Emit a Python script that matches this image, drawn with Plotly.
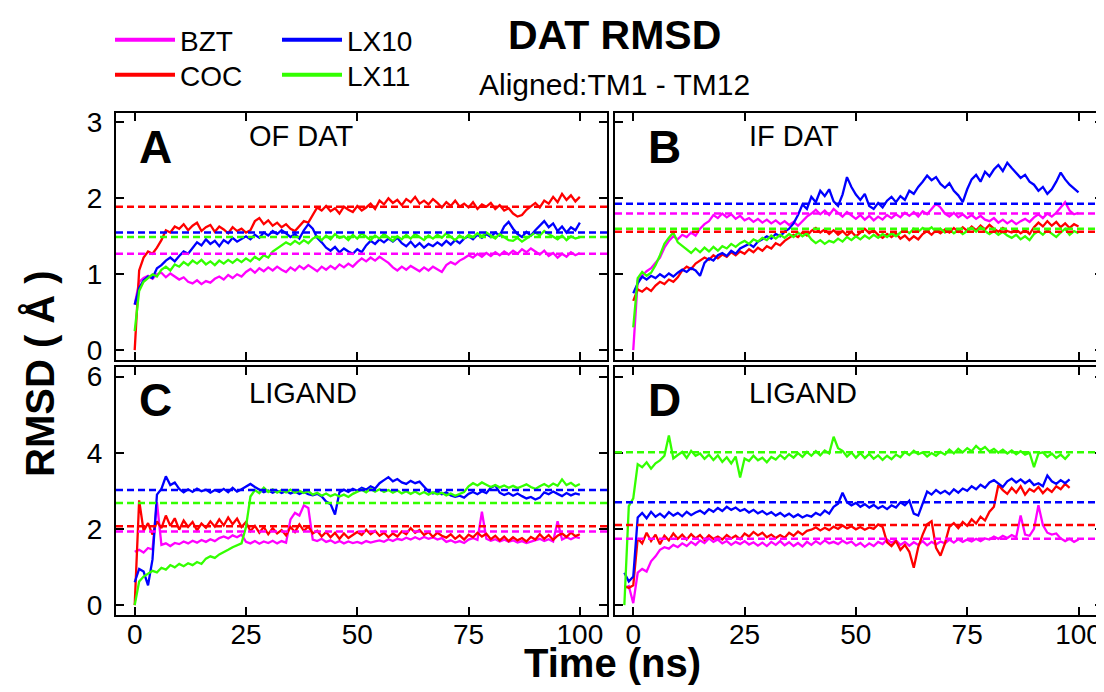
import plotly.graph_objects as go
from plotly.subplots import make_subplots

# ---------------- data ----------------
TIME = list(range(0, 101))          # ns, panels A-C
TIME_D = list(range(-2, 101))       # ns, panel D (starts slightly before 0)

SERIES = ["BZT", "COC", "LX10", "LX11"]
COLORS = {"BZT": "#ff00ff", "COC": "#ff0000", "LX10": "#0000ff", "LX11": "#33ff00"}

PANEL_LETTERS = ["A", "B", "C", "D"]
PANEL_NAMES = ["OF DAT", "IF DAT", "LIGAND", "LIGAND"]

X_TICKS = [0, 25, 50, 75, 100]
Y_TICKS_TOP = [0, 1, 2, 3]
Y_TICKS_BOTTOM = [0, 2, 4, 6]

# Panel A : OF DAT
BZT_A = [0.60, 0.90, 0.95, 0.98, 0.94, 1.00, 1.02, 0.96, 1.01, 0.97,
         0.93, 0.96, 0.90, 0.88, 0.92, 0.87, 0.91, 0.89, 0.94, 0.97,
         0.93, 0.99, 0.95, 1.00, 0.97, 1.03, 1.07, 1.02, 1.08, 1.04,
         1.09, 1.05, 1.10, 1.06, 1.03, 1.09, 1.05, 1.11, 1.07, 1.12,
         1.08, 1.04, 1.10, 1.06, 1.11, 1.07, 1.13, 1.09, 1.14, 1.10,
         1.16, 1.21, 1.17, 1.22, 1.18, 1.23, 1.19, 1.15, 1.09, 1.05,
         1.10, 1.06, 1.11, 1.07, 1.04, 1.09, 1.05, 1.10, 1.06, 1.03,
         1.12, 1.16, 1.13, 1.18, 1.21, 1.25, 1.22, 1.27, 1.23, 1.28,
         1.24, 1.29, 1.25, 1.30, 1.26, 1.31, 1.27, 1.33, 1.29, 1.34,
         1.30, 1.26, 1.31, 1.24, 1.28, 1.22, 1.27, 1.23, 1.29, 1.25,
         1.28]
COC_A = [0.00, 1.05, 1.22, 1.30, 1.27, 1.35, 1.45, 1.58, 1.55, 1.63,
         1.60, 1.66, 1.58, 1.64, 1.68, 1.57, 1.62, 1.65, 1.56, 1.63,
         1.59, 1.54, 1.62, 1.57, 1.60, 1.55, 1.58, 1.70, 1.74, 1.66,
         1.71, 1.64, 1.68, 1.62, 1.66, 1.60, 1.57, 1.63, 1.70, 1.68,
         1.78, 1.88, 1.84, 1.90, 1.83, 1.87, 1.80, 1.89, 1.85, 1.82,
         1.90, 1.84, 1.88, 1.93, 1.86, 1.97, 1.92, 2.00, 1.94, 1.98,
         1.91, 1.99, 1.95, 2.02, 1.93, 1.97, 1.92, 1.99, 1.94, 1.88,
         1.95, 1.90, 1.97, 1.89, 1.93, 1.88, 1.95, 1.86, 1.92, 1.89,
         1.94, 1.86, 1.91, 1.84, 1.87, 1.80, 1.76, 1.78, 1.85, 1.90,
         1.94, 1.88, 1.97, 1.93, 2.02, 1.95, 2.06, 1.98, 2.04, 1.96,
         2.02]
LX10_A = [0.60, 0.82, 0.92, 0.97, 0.95, 1.08, 1.12, 1.18, 1.22, 1.17,
          1.24, 1.30, 1.27, 1.34, 1.42, 1.38, 1.46, 1.40, 1.44, 1.37,
          1.45, 1.41, 1.48, 1.43, 1.47, 1.50, 1.46, 1.52, 1.48, 1.55,
          1.51, 1.57, 1.53, 1.58, 1.54, 1.49, 1.53, 1.47, 1.58, 1.66,
          1.60, 1.48, 1.42, 1.35, 1.31, 1.36, 1.29, 1.34, 1.30, 1.27,
          1.33, 1.29, 1.38, 1.44, 1.40, 1.46, 1.42, 1.47, 1.43, 1.48,
          1.41, 1.37, 1.43, 1.36, 1.41, 1.35, 1.40, 1.37, 1.42, 1.38,
          1.44, 1.39, 1.45, 1.41, 1.47, 1.50, 1.46, 1.52, 1.48, 1.53,
          1.49, 1.55, 1.51, 1.63, 1.69, 1.60, 1.53, 1.49, 1.56, 1.51,
          1.58, 1.64, 1.70, 1.62, 1.67, 1.57, 1.63, 1.55, 1.62, 1.58,
          1.68]
LX11_A = [0.25, 0.78, 0.90, 0.95, 1.00, 0.97, 1.06, 1.10, 1.05, 1.13,
          1.10, 1.16, 1.12, 1.18, 1.14, 1.19, 1.13, 1.17, 1.12, 1.18,
          1.14, 1.19, 1.15, 1.20, 1.16, 1.21, 1.17, 1.23, 1.19, 1.25,
          1.22, 1.30, 1.34, 1.38, 1.42, 1.39, 1.44, 1.40, 1.45, 1.41,
          1.47, 1.50, 1.45, 1.51, 1.46, 1.53, 1.48, 1.50, 1.45, 1.52,
          1.47, 1.54, 1.49, 1.45, 1.51, 1.47, 1.53, 1.48, 1.44, 1.50,
          1.46, 1.52, 1.47, 1.53, 1.49, 1.45, 1.51, 1.47, 1.52, 1.48,
          1.54, 1.49, 1.45, 1.51, 1.47, 1.52, 1.49, 1.54, 1.50, 1.55,
          1.51, 1.47, 1.53, 1.49, 1.45, 1.44, 1.48, 1.43, 1.47, 1.50,
          1.55, 1.51, 1.57, 1.53, 1.49, 1.46, 1.51, 1.45, 1.50, 1.47,
          1.49]
MEAN_A = {"BZT": 1.27, "COC": 1.89, "LX10": 1.55, "LX11": 1.49}

# Panel B : IF DAT
BZT_B = [0.00, 0.92, 0.98, 1.04, 1.08, 1.15, 1.22, 1.35, 1.44, 1.50,
         1.46, 1.52, 1.49, 1.55, 1.51, 1.60, 1.66, 1.70, 1.78, 1.74,
         1.80, 1.75, 1.79, 1.73, 1.77, 1.71, 1.74, 1.69, 1.73, 1.68,
         1.72, 1.67, 1.71, 1.66, 1.70, 1.65, 1.69, 1.64, 1.70, 1.76,
         1.80, 1.85, 1.79, 1.84, 1.78, 1.86, 1.81, 1.76, 1.82, 1.77,
         1.73, 1.78, 1.72, 1.77, 1.71, 1.76, 1.72, 1.78, 1.74, 1.79,
         1.75, 1.81, 1.77, 1.82, 1.76, 1.83, 1.79, 1.86, 1.93, 1.88,
         1.80, 1.76, 1.81, 1.75, 1.79, 1.74, 1.78, 1.73, 1.77, 1.72,
         1.70, 1.74, 1.68, 1.72, 1.67, 1.71, 1.66, 1.70, 1.73, 1.69,
         1.75, 1.79, 1.74, 1.80, 1.76, 1.81, 1.88, 1.95, 1.84, 1.79,
         1.81]
COC_B = [0.65, 0.80, 0.77, 0.82, 0.78, 0.85, 0.90, 0.87, 0.93, 0.90,
         0.96, 1.05, 1.10, 1.07, 1.14, 1.18, 1.22, 1.19, 1.25, 1.21,
         1.26, 1.23, 1.29, 1.25, 1.30, 1.27, 1.33, 1.29, 1.35, 1.31,
         1.37, 1.34, 1.41, 1.38, 1.44, 1.48, 1.52, 1.49, 1.55, 1.51,
         1.57, 1.61, 1.55, 1.59, 1.53, 1.58, 1.52, 1.57, 1.51, 1.56,
         1.50, 1.55, 1.60, 1.54, 1.58, 1.52, 1.48, 1.53, 1.49, 1.54,
         1.47, 1.51, 1.45, 1.50, 1.46, 1.53, 1.57, 1.52, 1.58, 1.54,
         1.59, 1.55, 1.61, 1.56, 1.62, 1.57, 1.63, 1.58, 1.64, 1.59,
         1.65, 1.60, 1.56, 1.61, 1.57, 1.55, 1.59, 1.54, 1.58, 1.53,
         1.62, 1.68, 1.63, 1.70, 1.64, 1.69, 1.62, 1.67, 1.61, 1.66,
         1.63]
LX10_B = [0.75, 0.88, 0.97, 0.93, 0.98, 0.95, 1.00, 0.96, 1.01, 0.97,
          1.02, 1.06, 1.03, 1.08, 1.05, 0.98, 1.15, 1.21, 1.18, 1.25,
          1.28, 1.24, 1.31, 1.27, 1.34, 1.37, 1.40, 1.36, 1.43, 1.46,
          1.50, 1.47, 1.53, 1.50, 1.56, 1.60, 1.67, 1.78, 1.92, 1.86,
          2.02, 1.95, 2.10, 2.03, 2.12, 1.96, 1.90, 2.05, 2.28, 2.15,
          2.05, 1.98, 2.06, 1.90, 1.86, 1.94, 1.88, 1.97, 2.02, 1.95,
          2.03, 1.98, 2.10, 2.06, 2.15, 2.22, 2.30, 2.24, 2.28, 2.19,
          2.14, 2.20, 2.10, 2.04, 1.95, 2.12, 2.25, 2.31, 2.22, 2.35,
          2.29, 2.38, 2.44, 2.36, 2.47, 2.40, 2.33, 2.27, 2.31, 2.22,
          2.18, 2.10, 2.15, 2.06, 2.12, 2.22, 2.34, 2.25, 2.18, 2.13,
          2.08]
LX11_B = [0.30, 0.95, 1.03, 0.98, 1.02, 1.12, 1.25, 1.40, 1.48, 1.55,
          1.42, 1.37, 1.33, 1.28, 1.34, 1.29, 1.35, 1.30, 1.36, 1.31,
          1.37, 1.34, 1.40, 1.36, 1.41, 1.44, 1.40, 1.46, 1.43, 1.48,
          1.45, 1.51, 1.47, 1.52, 1.48, 1.53, 1.49, 1.55, 1.50, 1.54,
          1.46, 1.41, 1.45, 1.40, 1.44, 1.42, 1.47, 1.43, 1.49, 1.45,
          1.50, 1.46, 1.51, 1.47, 1.52, 1.48, 1.53, 1.49, 1.54, 1.50,
          1.55, 1.59, 1.54, 1.60, 1.56, 1.61, 1.57, 1.62, 1.56, 1.60,
          1.55, 1.59, 1.54, 1.58, 1.53, 1.57, 1.61, 1.56, 1.62, 1.57,
          1.53, 1.57, 1.52, 1.56, 1.51, 1.48, 1.52, 1.46, 1.50, 1.45,
          1.53, 1.57, 1.52, 1.58, 1.53, 1.49, 1.55, 1.60, 1.52, 1.57,
          1.54]
MEAN_B = {"BZT": 1.80, "COC": 1.56, "LX10": 1.93, "LX11": 1.60}

# Panel C : LIGAND
BZT_C = [1.40, 1.45, 1.38, 1.50, 1.46, 2.70, 1.58, 1.62, 1.55, 1.63,
         1.60, 1.67, 1.62, 1.69, 1.64, 1.71, 1.66, 1.73, 1.68, 1.76,
         1.80, 1.75, 1.83, 1.78, 1.85, 1.66, 1.62, 1.68, 1.61, 1.67,
         1.63, 1.69, 1.62, 1.68, 1.64, 2.25, 2.42, 2.35, 2.62, 2.55,
         1.72, 1.68, 1.74, 1.66, 1.70, 1.63, 1.68, 1.62, 1.67, 1.63,
         1.66, 1.62, 1.68, 1.64, 1.67, 1.70, 1.66, 1.73, 1.68, 1.74,
         1.71, 1.77, 1.72, 1.78, 1.73, 1.79, 1.74, 1.78, 1.72, 1.76,
         1.66, 1.70, 1.64, 1.68, 1.63, 1.72, 1.76, 1.71, 2.45, 1.74,
         1.69, 1.73, 1.67, 1.72, 1.66, 1.70, 1.64, 1.68, 1.63, 1.67,
         1.70, 1.74, 1.68, 1.73, 1.67, 2.20, 1.72, 1.78, 1.73, 1.79,
         1.76]
COC_C = [0.00, 2.75, 1.95, 2.15, 1.85, 2.20, 2.02, 2.35, 2.08, 2.28,
         1.98, 2.22, 2.05, 2.18, 1.96, 2.14, 2.03, 2.20, 2.06, 2.25,
         2.09, 2.30, 2.12, 2.27, 2.05, 2.18, 1.94, 2.08, 1.90, 2.05,
         1.86, 2.02, 1.88, 1.97, 1.83, 2.05, 1.92, 2.12, 1.95, 2.06,
         1.88, 1.95, 1.80, 1.92, 1.78, 1.90, 1.74, 1.88, 1.76, 1.85,
         1.92, 1.84, 1.98, 1.86, 1.95, 1.82, 1.90, 1.78, 1.88, 1.80,
         1.93, 1.86, 2.02, 1.90, 1.97, 1.84, 1.92, 1.79, 1.90, 1.82,
         1.77, 1.86, 1.74, 1.83, 1.72, 1.85, 1.78, 1.90, 1.80, 1.87,
         1.73, 1.82, 1.70, 1.80, 1.68, 1.78, 1.70, 1.76, 1.67, 1.79,
         1.72, 1.86, 1.74, 1.84, 1.71, 1.82, 1.88, 1.79, 1.90, 1.81,
         1.86]
LX10_C = [0.60, 0.95, 0.88, 0.52, 1.20, 2.90, 3.05, 3.38, 3.15, 3.22,
          3.05, 2.96, 3.04, 2.97, 3.06, 2.99, 3.03, 2.95, 3.02, 2.97,
          3.05, 2.96, 3.08, 2.98, 3.04, 3.12, 3.18, 3.10, 3.02, 2.96,
          3.01, 2.95, 3.00, 2.94, 2.99, 2.93, 2.98, 2.92, 2.97, 2.91,
          2.88, 2.92, 2.85, 2.72, 2.65, 2.38, 2.96, 3.03, 2.97, 3.05,
          3.00, 3.08, 3.03, 3.12, 3.06, 3.20, 3.28, 3.36, 3.25, 3.31,
          3.22, 3.18, 3.26, 3.20, 3.24, 3.12, 2.98, 2.93, 2.99, 2.91,
          2.96, 2.88, 2.84, 2.87, 2.82, 2.92, 2.97, 2.91, 2.99, 2.94,
          3.08, 3.14, 2.95, 2.89, 2.94, 2.87, 2.93, 2.86, 2.80, 2.84,
          2.77, 2.82, 2.96, 2.91, 2.98, 2.92, 2.86, 2.94, 2.88, 2.93,
          2.90]
LX11_C = [0.00, 0.62, 0.75, 0.82, 0.90, 0.86, 0.98, 0.93, 1.05, 0.99,
          1.08, 1.02, 1.10, 1.05, 1.13, 1.08, 1.22, 1.28, 1.24, 1.33,
          1.38, 1.45, 1.52, 1.56, 1.62, 2.05, 2.85, 3.02, 2.94, 3.08,
          2.97, 3.04, 2.95, 3.02, 2.96, 3.03, 2.95, 3.00, 2.94, 2.99,
          2.90, 2.95, 2.87, 2.93, 2.86, 2.91, 2.85, 2.90, 2.84, 2.92,
          2.97, 3.03, 2.96, 3.05, 2.98, 3.04, 2.97, 3.02, 2.95, 3.01,
          2.93, 2.99, 2.92, 2.98, 2.91, 2.97, 2.90, 2.96, 2.91, 2.95,
          2.88, 2.93, 2.87, 2.92, 2.97, 3.12, 3.20, 3.14, 3.22, 3.16,
          3.10, 3.15, 3.09, 3.14, 3.08, 3.13, 3.07, 3.12, 3.17, 3.10,
          3.05, 3.12, 3.18, 3.11, 3.19, 3.13, 3.30, 3.15, 3.21, 3.12,
          3.18]
MEAN_C = {"BZT": 1.93, "COC": 2.07, "LX10": 3.02, "LX11": 2.68}

# Panel D : LIGAND (time starts at -2 ns)
BZT_D = [0.45, 0.50, 0.05, 0.85, 0.95, 0.88, 1.15, 1.28, 1.45, 1.52,
         1.48, 1.58, 1.52, 1.62, 1.55, 1.66, 1.58, 1.70, 1.63, 1.75,
         1.66, 1.72, 1.62, 1.68, 1.58, 1.66, 1.60, 1.68, 1.59, 1.65,
         1.56, 1.64, 1.55, 1.66, 1.58, 1.68, 1.57, 1.65, 1.55, 1.63,
         1.54, 1.66, 1.58, 1.68, 1.60, 1.70, 1.62, 1.66, 1.60, 1.69,
         1.62, 1.67, 1.56, 1.63, 1.53, 1.62, 1.55, 1.66, 1.60, 1.72,
         1.64, 1.70, 1.58, 1.66, 1.56, 1.65, 1.58, 1.68, 1.57, 1.66,
         1.59, 1.67, 1.62, 1.72, 1.64, 1.73, 1.66, 1.72, 1.67, 1.74,
         1.68, 1.75, 1.72, 1.80, 1.74, 1.82, 1.76, 1.84, 1.78, 2.35,
         1.85, 1.82, 2.00, 2.62, 2.10, 1.90, 1.85, 1.88, 1.75, 1.68,
         1.74, 1.66, 1.72]
COC_D = [0.50, 0.45, 0.52, 1.75, 1.62, 1.90, 1.68, 1.85, 1.60, 1.82,
         1.70, 1.88, 1.74, 1.85, 1.72, 1.86, 1.75, 1.84, 1.71, 1.83,
         1.74, 1.80, 1.72, 1.84, 1.75, 1.82, 1.73, 1.88, 1.80, 1.92,
         1.83, 1.90, 1.78, 1.85, 1.76, 1.84, 1.77, 1.90, 1.82, 1.93,
         1.85, 1.95, 1.98, 2.04, 1.96, 2.03, 1.97, 2.06, 2.00, 2.09,
         2.01, 2.07, 1.99, 2.05, 1.98, 2.04, 2.00, 2.12, 2.05, 1.65,
         1.55, 1.68, 1.45, 1.58, 1.40, 0.98, 1.52, 1.85, 2.12, 2.20,
         1.50, 1.30, 1.62, 2.05, 2.15, 2.02, 2.18, 2.08, 2.25, 2.14,
         2.32, 2.22, 2.45, 2.58, 3.15, 3.02, 2.92, 3.08, 2.95, 3.12,
         2.90, 3.05, 2.98, 3.10, 2.94, 3.06, 2.97, 3.12, 3.04, 3.18,
         3.08]
LX10_D = [0.85, 0.62, 0.75, 2.30, 2.42, 2.28, 2.45, 2.32, 2.40, 2.30,
          2.44, 2.35, 2.42, 2.33, 2.45, 2.36, 2.43, 2.48, 2.40, 2.52,
          2.45, 2.55, 2.47, 2.58, 2.50, 2.56, 2.47, 2.52, 2.43, 2.50,
          2.41, 2.47, 2.38, 2.44, 2.35, 2.42, 2.33, 2.40, 2.31, 2.38,
          2.30, 2.36, 2.32, 2.42, 2.36, 2.48, 2.40, 2.58, 2.66, 2.95,
          2.70, 2.62, 2.68, 2.58, 2.65, 2.56, 2.63, 2.54, 2.60, 2.52,
          2.62, 2.56, 2.70, 2.62, 2.74, 2.40, 2.35, 2.65, 2.98, 2.90,
          3.02, 2.93, 3.00, 2.91, 3.04, 2.95, 3.06, 3.00, 3.12, 3.04,
          3.16, 3.08, 3.22, 3.28, 3.20, 3.10, 3.25, 3.32, 3.22, 3.30,
          3.20, 3.28, 3.15, 3.20, 3.12, 3.40, 3.25, 3.18, 3.28, 3.20,
          3.30]
LX11_D = [0.00, 2.60, 2.80, 3.70, 3.62, 3.75, 3.58, 3.72, 3.80, 3.92,
          4.45, 3.85, 3.94, 4.02, 3.86, 4.05, 3.92, 3.98, 3.84, 3.95,
          3.81, 3.93, 3.76, 3.88, 3.72, 3.90, 3.35, 3.85, 3.78, 3.92,
          3.80, 3.87, 3.75, 3.89, 3.82, 3.94, 3.84, 3.96, 3.87, 3.99,
          3.89, 4.02, 3.92, 4.04, 3.93, 4.06, 3.98, 4.42, 4.12, 4.05,
          3.90, 4.01, 3.87, 3.99, 3.86, 3.97, 3.84, 3.93, 3.81, 3.92,
          3.83, 3.95, 3.88, 4.02, 3.94, 4.05, 3.96, 4.01, 3.90, 3.99,
          3.92, 4.02, 3.95, 4.08, 3.98, 4.10, 4.01, 4.12, 4.04, 4.18,
          4.07, 4.15, 4.03, 4.10, 4.00, 4.08, 3.98, 4.06, 3.96, 4.04,
          3.95, 4.00, 3.62, 3.98, 4.01, 3.89, 3.98, 3.86, 3.95, 3.84,
          3.97]
MEAN_D = {"BZT": 1.74, "COC": 2.10, "LX10": 2.70, "LX11": 4.01}

PANELS = [
    (1, 1, TIME, {"BZT": BZT_A, "COC": COC_A, "LX10": LX10_A, "LX11": LX11_A}, MEAN_A),
    (1, 2, TIME, {"BZT": BZT_B, "COC": COC_B, "LX10": LX10_B, "LX11": LX11_B}, MEAN_B),
    (2, 1, TIME, {"BZT": BZT_C, "COC": COC_C, "LX10": LX10_C, "LX11": LX11_C}, MEAN_C),
    (2, 2, TIME_D, {"BZT": BZT_D, "COC": COC_D, "LX10": LX10_D, "LX11": LX11_D}, MEAN_D),
]

# ---------------- figure ----------------
W, H = 1104, 692
PAGE_OFFSET = 8          # default body margin of the html page
FONT = "Liberation Sans, Arial, sans-serif"


def px(x):
    """screen x (px) -> paper x"""
    return (x - PAGE_OFFSET) / W


def py(y):
    """screen y (px) -> paper y"""
    return 1 - (y - PAGE_OFFSET) / H


fig = make_subplots(rows=2, cols=2)

for row, col, t, data, means in PANELS:
    for name in SERIES:
        vals = data[name]
        fig.add_trace(go.Scatter(x=t[:len(vals)], y=vals, mode="lines",
                                 line=dict(color=COLORS[name], width=2.3),
                                 showlegend=False, hoverinfo="skip"),
                      row=row, col=col)
    for name in SERIES:
        fig.add_hline(y=means[name], row=row, col=col,
                      line=dict(color=COLORS[name], width=2.5, dash="7px,4px"))

# legend entries: row 1 = BZT, LX10 ; row 2 = COC, LX11
LEGEND_OF = {"BZT": "legend", "LX10": "legend", "COC": "legend2", "LX11": "legend2"}
for name in SERIES:
    fig.add_trace(go.Scatter(x=[None], y=[None], mode="lines", name=name,
                             line=dict(color=COLORS[name], width=4),
                             legend=LEGEND_OF[name]))

axis_common = dict(showline=True, linewidth=2, linecolor="black", mirror="ticks",
                   ticks="inside", ticklen=8, tickwidth=1.5, tickcolor="black",
                   showgrid=False, zeroline=False, automargin=False,
                   tickfont=dict(family=FONT, size=28, color="black"))
x_common = dict(axis_common, tickvals=X_TICKS, ticklabelstandoff=-7)
y_common = dict(axis_common, ticklabelstandoff=6)

XDOM_L = [px(116), px(607)]
XDOM_R = [px(615), px(1103)]
YDOM_T = [py(360), py(113)]
YDOM_B = [py(615), py(367)]

fig.update_layout(
    xaxis=dict(x_common, domain=XDOM_L, range=[-4.2, 106.1], showticklabels=False),
    xaxis2=dict(x_common, domain=XDOM_R, range=[-4.1, 105.5], showticklabels=False),
    xaxis3=dict(x_common, domain=XDOM_L, range=[-4.2, 106.1]),
    xaxis4=dict(x_common, domain=XDOM_R, range=[-4.1, 105.5]),
    yaxis=dict(y_common, domain=YDOM_T, range=[-0.13, 3.125], tickvals=Y_TICKS_TOP),
    yaxis2=dict(y_common, domain=YDOM_T, range=[-0.13, 3.125], tickvals=Y_TICKS_TOP, showticklabels=False),
    yaxis3=dict(y_common, domain=YDOM_B, range=[-0.26, 6.25], tickvals=Y_TICKS_BOTTOM),
    yaxis4=dict(y_common, domain=YDOM_B, range=[-0.26, 6.25], tickvals=Y_TICKS_BOTTOM, showticklabels=False),
)

legend_common = dict(font=dict(family=FONT, size=28, color="black"),
                     bgcolor="rgba(0,0,0,0)", borderwidth=0,
                     orientation="h", xanchor="left", yanchor="top",
                     itemwidth=60, entrywidth=92, entrywidthmode="pixels",
                     tracegroupgap=0)
fig.update_layout(
    legend=dict(legend_common, x=px(110), y=py(15)),
    legend2=dict(legend_common, x=px(110), y=py(50)),
)

annotations = []
# panel letters and names
LETTER_POS = [(155, 147), (664, 147), (155, 400), (664, 400)]
NAME_POS = [(247, 136), (747, 136), (247, 393), (747, 393)]
for letter, (lx, ly), name, (nx, ny) in zip(PANEL_LETTERS, LETTER_POS, PANEL_NAMES, NAME_POS):
    annotations.append(dict(text=f"<b>{letter}</b>", x=px(lx), y=py(ly), xref="paper", yref="paper",
                            xanchor="center", yanchor="middle", showarrow=False,
                            font=dict(family=FONT, size=46, color="black")))
    annotations.append(dict(text=name, x=px(nx), y=py(ny), xref="paper", yref="paper",
                            xanchor="left", yanchor="middle", showarrow=False,
                            font=dict(family=FONT, size=29, color="black")))

annotations += [
    dict(text="<b>DAT RMSD</b>", x=px(614), y=py(35), xref="paper", yref="paper",
         xanchor="center", yanchor="middle", showarrow=False,
         font=dict(family=FONT, size=41, color="black")),
    dict(text="Aligned:TM1 - TM12", x=px(614), y=py(84), xref="paper", yref="paper",
         xanchor="center", yanchor="middle", showarrow=False,
         font=dict(family=FONT, size=30, color="black")),
    dict(text="<b>Time (ns)</b>", x=px(612), y=py(663), xref="paper", yref="paper",
         xanchor="center", yanchor="middle", showarrow=False,
         font=dict(family=FONT, size=40, color="black")),
    dict(text="<b>RMSD ( Å )</b>", x=px(40), y=py(374), xref="paper", yref="paper",
         xanchor="center", yanchor="middle", showarrow=False, textangle=-90,
         font=dict(family=FONT, size=40, color="black")),
]

fig.update_layout(
    annotations=annotations,
    width=W, height=H,
    margin=dict(l=0, r=0, t=0, b=0),
    paper_bgcolor="white", plot_bgcolor="white",
    font=dict(family=FONT, color="black"),
)

fig.write_html("out.html")
